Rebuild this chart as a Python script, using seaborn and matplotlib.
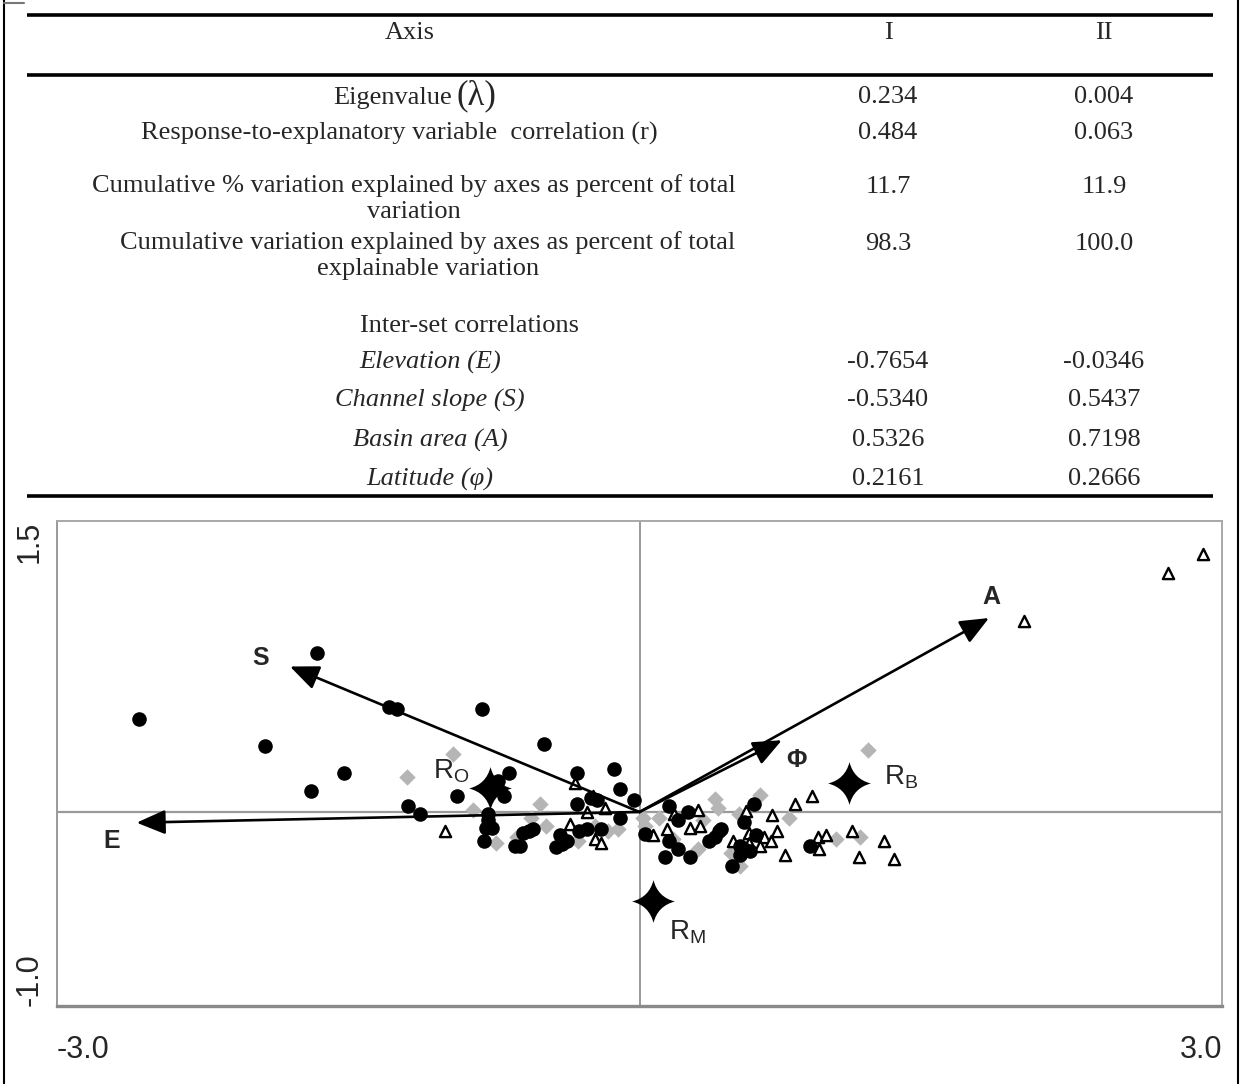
import numpy as np
import pandas as pd
import matplotlib
matplotlib.use("Agg")
import matplotlib.pyplot as plt
from matplotlib.path import Path
from matplotlib.patches import Rectangle
import seaborn as sns

# ---- table data ----
axis_names = ["I", "II"]
row_labels = ["Eigenvalue",
              "Response-to-explanatory variable  correlation (r)",
              "Cumulative % variation explained by axes as percent of total\nvariation",
              "Cumulative variation explained by axes as percent of total\nexplainable variation"]
row_axis1 = ["0.234", "0.484", "11.7", "98.3"]
row_axis2 = ["0.004", "0.063", "11.9", "100.0"]
corr_labels = ["Elevation (E)", "Channel slope (S)", "Basin area (A)", "Latitude (\u03c6)"]
corr_axis1 = ["-0.7654", "-0.5340", "0.5326", "0.2161"]
corr_axis2 = ["-0.0346", "0.5437", "0.7198", "0.2666"]

# ---- biplot data ----
circle_x = [-2.58, -1.93, -1.66, -1.52, -1.69, -1.29, -1.25, -1.19, -1.13, -0.94, -0.81, -0.67,
            -0.73, -0.70, -0.78, -0.78, -0.79, -0.76, -0.80, -0.64, -0.49, -0.13, -0.32, -0.10,
            -0.03, -0.25, -0.22, -0.32, -0.10, -0.55, -0.57, -0.60, -0.615, -0.31, -0.27, -0.41,
            -0.375, -0.43, -0.40, -0.20, 0.03, 0.15, 0.25, 0.20, 0.59, 0.54, 0.15, 0.13, 0.20,
            0.26, 0.36, 0.39, 0.41, 0.42, 0.52, 0.54, 0.57, 0.52, 0.60, 0.475, 0.88]
circle_y = [0.48, 0.34, 0.82, 0.20, 0.11, 0.54, 0.53, 0.03, -0.01, 0.08, 0.53, 0.20,
            0.16, 0.08, -0.01, -0.04, -0.08, -0.08, -0.15, -0.175, 0.35, 0.22, 0.20, 0.12,
            0.06, 0.07, 0.06, 0.04, -0.03, -0.09, -0.10, -0.11, -0.175, -0.10, -0.09, -0.12,
            -0.15, -0.18, -0.165, -0.09, -0.115, 0.03, 0.0, -0.04, 0.04, -0.05, -0.15, -0.23, -0.19,
            -0.23, -0.15, -0.13, -0.10, -0.09, -0.175, -0.19, -0.20, -0.22, -0.12, -0.28, -0.175]

diamond_x = [-0.96, -1.20, -0.86, -0.74, -0.63, -0.51, -0.56, -0.48, -0.23, -0.315, -0.16, -0.11,
             0.02, 0.03, 0.10, 0.39, 0.405, 0.325, 0.62, 0.51, 0.77, 0.17, 0.30, 0.47, 0.52,
             1.175, 1.01, 1.135]
diamond_y = [0.30, 0.18, 0.01, -0.16, -0.13, 0.04, -0.03, -0.07, -0.07, -0.15, -0.10, -0.09,
             -0.03, -0.07, -0.03, 0.065, 0.02, -0.04, 0.09, -0.01, -0.03, -0.14, -0.19, -0.21, -0.28,
             0.32, -0.14, -0.13]

triangle_x = [-1.00, -0.33, -0.18, -0.27, -0.36, -0.23, -0.20, 0.07, -0.24, 0.30, 0.18, 0.26,
              0.31, 0.55, 0.68, 0.80, 0.14, 0.48, 0.565, 0.64, 0.71, 0.675, 0.62, 0.565, 0.75,
              0.89, 0.92, 0.96, 0.925, 1.095, 1.26, 1.13, 1.31, 1.98, 2.72, 2.90]
triangle_y = [-0.10, 0.15, 0.02, 0.0, -0.06, -0.14, -0.16, -0.12, 0.08, 0.01, -0.01, -0.08,
              -0.07, 0.005, -0.015, 0.04, -0.09, -0.15, -0.11, -0.13, -0.10, -0.15, -0.175, -0.16, -0.22,
              0.08, -0.13, -0.12, -0.19, -0.10, -0.15, -0.23, -0.24, 0.985, 1.23, 1.33]

centroid_names = ["O", "B", "M"]
centroid_x = [-0.77, 1.08, 0.067]
centroid_y = [0.125, 0.15, -0.46]

arrow_names = ["E", "S", "A", "\u03a6"]
arrow_x = [-2.59, -1.80, 1.80, 0.733]
arrow_y = [-0.055, 0.75, 1.00, 0.37]

sns.set_style("white")
plt.rcParams['font.family'] = ['Liberation Sans', 'DejaVu Sans']
plt.rcParams['mathtext.default'] = 'regular'

fig = plt.figure(figsize=(12.41, 10.84), dpi=100)

# ---- table (pixel coordinates) ----
tab = fig.add_axes([0, 0, 1, 1])
tab.set_xlim(0, 1241)
tab.set_ylim(1084, 0)
tab.axis("off")

serif = ['Liberation Serif', 'DejaVu Serif']
fs = 19
for yy in [15, 75, 496]:
    tab.plot([27, 1213], [yy, yy], color="black", lw=2.6, solid_capstyle="butt")

tab.text(410, 33, "Axis", ha="center", va="center", family=serif, fontsize=fs)
tab.text(888, 33, axis_names[0], ha="center", va="center", family=serif, fontsize=fs)
tab.text(1104, 33, axis_names[1], ha="center", va="center", family=serif, fontsize=fs)

row_y = [97, 133, 187, 244]
row_cx = [386, 399, 414, 428]
for i, (lab, v1, v2, yy, cx) in enumerate(zip(row_labels, row_axis1, row_axis2, row_y, row_cx)):
    if "\n" in lab:
        tab.text(cx, yy - 13, lab, ha="center", va="top", family=serif, fontsize=fs,
                 linespacing=1.25, multialignment="center")
    elif i == 0:
        tab.text(452, yy + 7, lab, ha="right", va="baseline", family=serif, fontsize=fs)
    else:
        tab.text(cx, yy, lab, ha="center", va="center", family=serif, fontsize=fs)
    tab.text(888, yy, v1, ha="center", va="center", family=serif, fontsize=fs)
    tab.text(1104, yy, v2, ha="center", va="center", family=serif, fontsize=fs)
# the lambda of the eigenvalue row is set larger
tab.text(457, 104, "(\u03bb)", ha="left", va="baseline", family=serif, fontsize=25)
# bottom of the last row is cut in the source
tab.add_patch(Rectangle((300, 285), 300, 20, color="white", zorder=5))

tab.text(470, 326, "Inter-set correlations", ha="center", va="center", family=serif, fontsize=fs)
corr_y = [362, 400, 440, 479]
for lab, v1, v2, yy in zip(corr_labels, corr_axis1, corr_axis2, corr_y):
    tab.text(430, yy, lab, ha="center", va="center", family=serif, fontsize=fs, style="italic")
    tab.text(888, yy, v1, ha="center", va="center", family=serif, fontsize=fs)
    tab.text(1104, yy, v2, ha="center", va="center", family=serif, fontsize=fs)

# page frame
tab.plot([4, 4], [0, 1084], color="black", lw=1.5)
tab.plot([1238, 1238], [0, 1084], color="black", lw=1.5)
tab.plot([4, 24], [3, 3], color="#777777", lw=1.5)

# ---- biplot ----
ax = fig.add_axes([57 / 1241, 1 - 1006 / 1084, 1165 / 1241, 485 / 1084])
ax.axhline(0, color="#9a9a9a", lw=1.6, zorder=0)
ax.axvline(0, color="#9a9a9a", lw=1.4, zorder=0)

pts_c = pd.DataFrame({"x": circle_x, "y": circle_y})
pts_d = pd.DataFrame({"x": diamond_x, "y": diamond_y})
pts_t = pd.DataFrame({"x": triangle_x, "y": triangle_y})

sns.scatterplot(data=pts_d, x="x", y="y", ax=ax, marker="D", s=70, color="#b5b5b5",
                linewidth=0, zorder=2)
sns.scatterplot(data=pts_t, x="x", y="y", ax=ax, marker="^", s=65, facecolor="white",
                edgecolor="black", linewidth=1.7, zorder=3)
sns.scatterplot(data=pts_c, x="x", y="y", ax=ax, marker="o", s=110, color="black",
                linewidth=0, zorder=4)

# four-pointed star for group centroids
c = 0.2
star = Path([(0, 1), (c, c), (1, 0), (c, -c), (0, -1), (-c, -c), (-1, 0), (-c, c), (0, 1), (0, 1)],
            [Path.MOVETO, Path.CURVE3, Path.CURVE3, Path.CURVE3, Path.CURVE3,
             Path.CURVE3, Path.CURVE3, Path.CURVE3, Path.CURVE3, Path.CLOSEPOLY])
cen = pd.DataFrame({"x": centroid_x, "y": centroid_y})
sns.scatterplot(data=cen, x="x", y="y", ax=ax, marker=star, s=950, color="black",
                linewidth=0, zorder=6)

cen_label_off = [(-0.20, 0.085), (0.27, 0.03), (0.18, -0.16)]
for name, x, y, (dx, dy) in zip(centroid_names, centroid_x, centroid_y, cen_label_off):
    ax.text(x + dx, y + dy, "R$_{" + name + "}$", ha="center", va="center", fontsize=20, zorder=7)

for name, x, y in zip(arrow_names, arrow_x, arrow_y):
    ax.annotate("", xy=(x, y), xytext=(0, 0),
                arrowprops=dict(arrowstyle="-|>,head_length=0.8,head_width=0.34", lw=1.9,
                                color="black", mutation_scale=22, shrinkA=0, shrinkB=0),
                zorder=5)

arrow_lab_x = [-2.72, -1.95, 1.81, 0.81]
arrow_lab_y = [-0.15, 0.795, 1.11, 0.27]
for name, x, y in zip(arrow_names, arrow_lab_x, arrow_lab_y):
    ax.text(x, y, name, ha="center", va="center", fontsize=18, fontweight="bold", zorder=7)

ax.set_xlim(-3.0, 3.0)
ax.set_ylim(-1.0, 1.5)
ax.set_xlabel("")
ax.set_ylabel("")

ax.set_xticks(np.arange(-3, 4, 1.0))
ax.set_xticklabels(["-3.0", "", "", "", "", "", "3.0"])
ax.set_yticks(np.arange(-1.0, 1.51, 0.5))
ax.set_yticklabels(["-1.0", "", "", "", "", "1.5"], rotation=90)
xl = ax.get_xticklabels()
xl[0].set_ha("left")
xl[-1].set_ha("right")
yl = ax.get_yticklabels()
yl[0].set_va("bottom")
yl[-1].set_va("top")
ax.tick_params(axis="x", direction="out", length=8, width=1.4, color="#8a8a8a",
               labelsize=22, pad=13)
ax.tick_params(axis="y", direction="out", length=7, width=1.4, color="#8a8a8a",
               labelsize=22, pad=2)

for side in ["top", "right"]:
    ax.spines[side].set_color("#a8a8a8")
    ax.spines[side].set_linewidth(1.4)
ax.spines["left"].set_color("#9a9a9a")
ax.spines["left"].set_linewidth(1.4)
ax.spines["bottom"].set_color("#8a8a8a")
ax.spines["bottom"].set_linewidth(2.4)

fig.savefig("out.png", dpi=100)
